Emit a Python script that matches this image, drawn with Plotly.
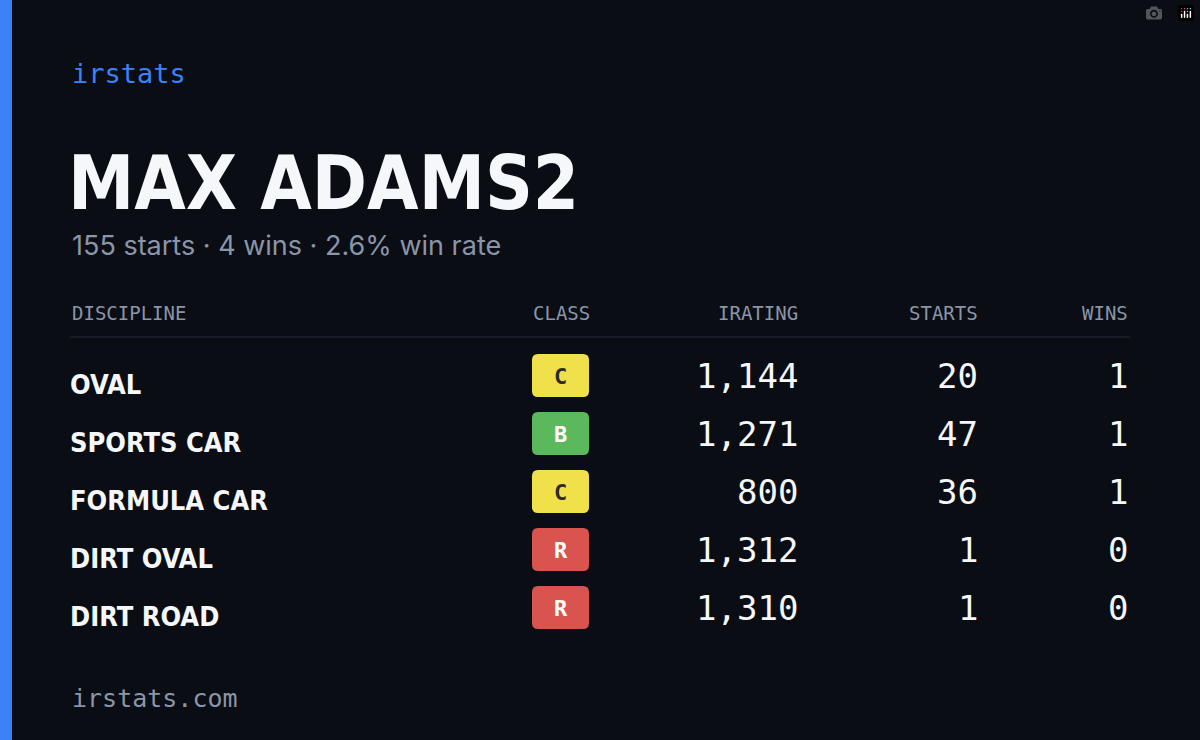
import plotly.graph_objects as go

disciplines = ["OVAL", "SPORTS CAR", "FORMULA CAR", "DIRT OVAL", "DIRT ROAD"]
classes = ["C", "B", "C", "R", "R"]
iratings = [1144, 1271, 800, 1312, 1310]
starts = [20, 47, 36, 1, 1]
wins = [1, 1, 1, 0, 0]
headers = ["DISCIPLINE", "CLASS", "IRATING", "STARTS", "WINS"]
name = "MAX ADAMS2"
total_starts, total_wins = 155, 4

BG = "#0a0d14"
MONO = "DejaVu Sans Mono"
COND = "DejaVu Sans Condensed, Roboto, sans-serif"
badge_fill = {"C": "#f0e14a", "B": "#5cb85c", "R": "#d9534f"}
badge_text = {"C": "#2b2b2b", "B": "#ffffff", "R": "#ffffff"}

fig = go.Figure()
fig.update_layout(width=1200, height=740, margin=dict(l=0, r=0, t=0, b=0),
                  paper_bgcolor=BG, plot_bgcolor=BG, showlegend=False,
                  xaxis=dict(range=[0, 1200], visible=False, fixedrange=True),
                  yaxis=dict(range=[740, 0], visible=False, fixedrange=True))

shapes = [dict(type="rect", x0=0, x1=12, y0=0, y1=740, fillcolor="#3b82f6", line_width=0, layer="below"),
          dict(type="line", x0=70, x1=1130, y0=337, y1=337, line=dict(color="#1c2130", width=1.5))]
ann = []
def A(x, y, t, size, color, font, anchor="left", bold=False):
    ann.append(dict(x=x, y=y, text=f"<b>{t}</b>" if bold else t, showarrow=False, xanchor=anchor,
                    yanchor="middle", font=dict(size=size, color=color, family=font)))

A(70, 73, "irstats", 27, "#3b82f6", MONO)
A(66, 183, name, 74, "#f5f7fb", COND, bold=True)
A(70, 245, f"{total_starts} starts · {total_wins} wins · {total_wins/total_starts*100:.1f}% win rate", 27, "#8b95a8", "Inter")
A(70, 698, "irstats.com", 25, "#8b95a8", MONO)

hx = [(70, "left"), (592, "right"), (800, "right"), (980, "right"), (1130, "right")]
for (x, anc), h in zip(hx, headers):
    A(x, 313, h, 19, "#8b95a8", MONO, anc)

r = 6
for i, d in enumerate(disciplines):
    yc = 376 + 58 * i
    A(68, yc + 8, d, 27, "#f5f7fb", COND, bold=True)
    x0, x1, y0, y1 = 532, 589, yc - 22, yc + 21
    path = (f"M{x0+r},{y0} L{x1-r},{y0} Q{x1},{y0} {x1},{y0+r} L{x1},{y1-r} Q{x1},{y1} {x1-r},{y1} "
            f"L{x0+r},{y1} Q{x0},{y1} {x0},{y1-r} L{x0},{y0+r} Q{x0},{y0} {x0+r},{y0} Z")
    shapes.append(dict(type="path", path=path, fillcolor=badge_fill[classes[i]], line_width=0))
    A(560.5, yc, classes[i], 22, badge_text[classes[i]], MONO, "center", bold=True)
    A(800, yc, f"{iratings[i]:,}", 34, "#f5f7fb", MONO, "right")
    A(980, yc, str(starts[i]), 34, "#f5f7fb", MONO, "right")
    A(1130, yc, str(wins[i]), 34, "#f5f7fb", MONO, "right")

fig.update_layout(shapes=shapes, annotations=ann)
fig.write_html("out.html", post_script="document.body.style.margin='0';document.body.style.background='#0a0d14';")
